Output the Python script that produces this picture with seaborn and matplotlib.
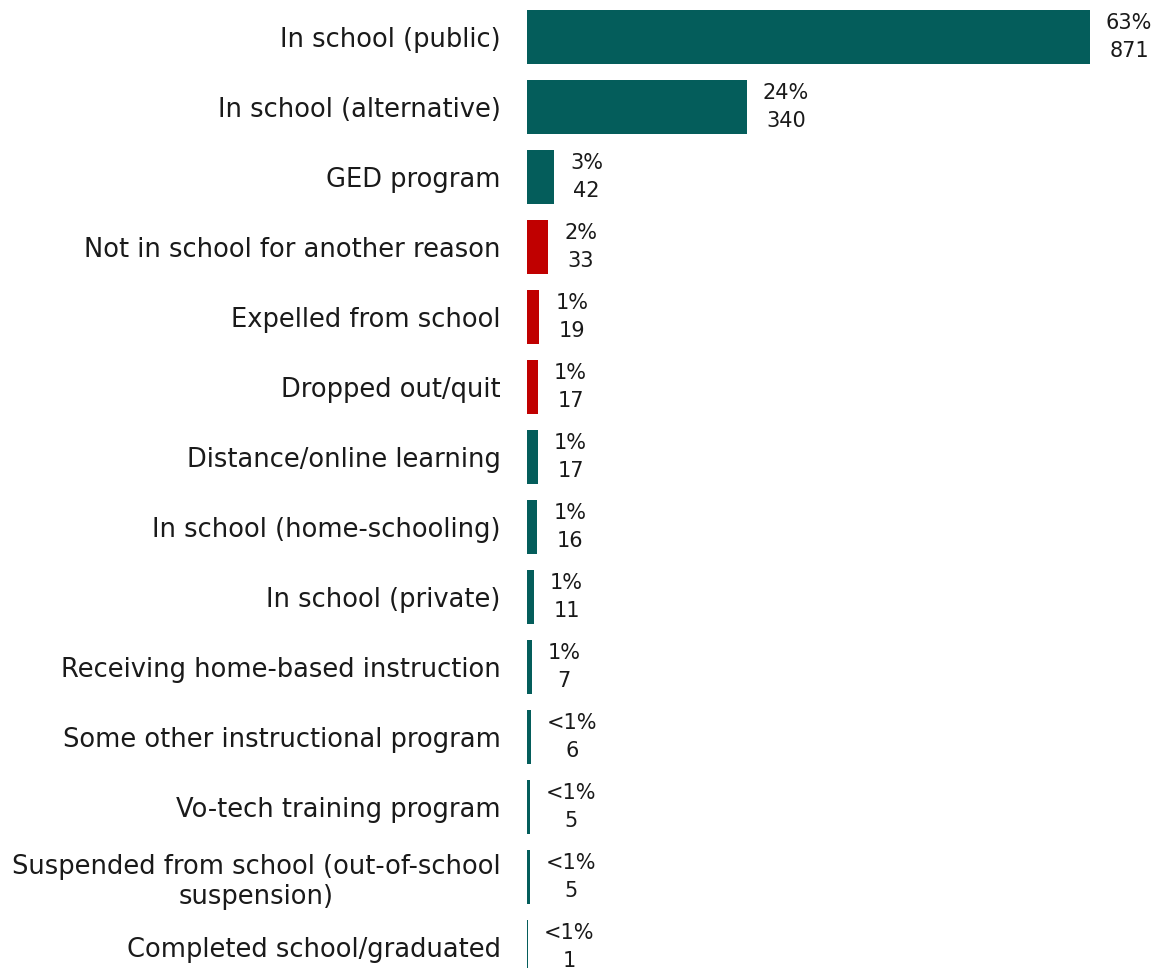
import matplotlib
matplotlib.use("Agg")
import matplotlib.pyplot as plt
import seaborn as sns
import pandas as pd

categories = [
    "In school (public)",
    "In school (alternative)",
    "GED program",
    "Not in school for another reason",
    "Expelled from school",
    "Dropped out/quit",
    "Distance/online learning",
    "In school (home-schooling)",
    "In school (private)",
    "Receiving home-based instruction",
    "Some other instructional program",
    "Vo-tech training program",
    "Suspended from school (out-of-school\nsuspension)",
    "Completed school/graduated",
]
counts = [871, 340, 42, 33, 19, 17, 17, 16, 11, 7, 6, 5, 5, 1]
pct_labels = ["63%", "24%", "3%", "2%", "1%", "1%", "1%", "1%", "1%", "1%",
              "<1%", "<1%", "<1%", "<1%"]
groups = ["enrolled", "enrolled", "enrolled", "out", "out", "out", "enrolled",
          "enrolled", "enrolled", "enrolled", "enrolled", "enrolled",
          "enrolled", "enrolled"]

palette = {"enrolled": "#045d5b", "out": "#c00000"}

df = pd.DataFrame({"category": categories, "count": counts, "group": groups})

sns.set_theme(style="white")
plt.rcParams["font.family"] = ["DejaVu Sans"]

fig = plt.figure(figsize=(11.61, 9.68), dpi=100)
ax = fig.add_axes([527 / 1161, 1 - 982 / 968, 1 - 527 / 1161, 980 / 968])

sns.barplot(data=df, x="count", y="category", hue="group", palette=palette,
            dodge=False, legend=False, width=0.76, ax=ax, linewidth=0,
            saturation=1, order=categories)

ax.set_xlim(0, 981)
ax.set_ylim(13.5, -0.5)
ax.set_xlabel("")
ax.set_ylabel("")
ax.set_xticks([])
for s in ax.spines.values():
    s.set_visible(False)

ax.tick_params(axis="y", length=0, pad=19, labelsize=18.5, labelcolor="#1a1a1a")
for lbl in ax.get_yticklabels():
    lbl.set_multialignment("center")
    lbl.set_linespacing(1.2)

for i, (c, p) in enumerate(zip(counts, pct_labels)):
    ax.annotate(f"{p}\n{c}", xy=(c, i), xytext=(16, 0),
                textcoords="offset pixels", ha="left", va="center",
                multialignment="center", fontsize=15, color="#1a1a1a",
                linespacing=1.45)

fig.savefig("out.png", dpi=100)
